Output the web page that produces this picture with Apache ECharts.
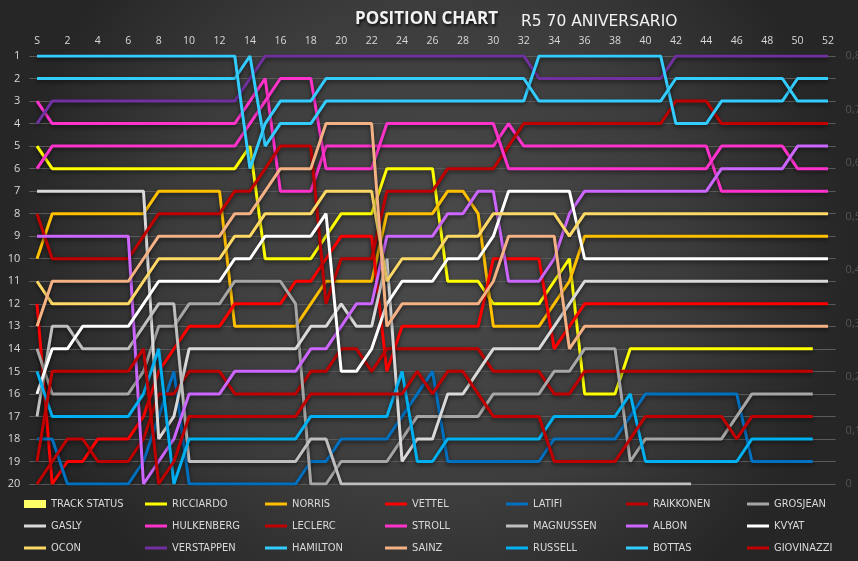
<!DOCTYPE html>
<html><head><meta charset="utf-8">
<script src="https://cdn.jsdelivr.net/npm/echarts@6/dist/echarts.min.js"></script>
<style>html,body{margin:0;padding:0;background:#2a2a2a}#c{width:858px;height:561px}</style>
</head><body><div id="c"></div>
<script>
const lapLabels = ['S','1','2','3','4','5','6','7','8','9','10','11','12','13','14','15','16','17','18','19','20','21','22','23','24','25','26','27','28','29','30','31','32','33','34','35','36','37','38','39','40','41','42','43','44','45','46','47','48','49','50','51','52'];
const trackStatus = [0,0,0,0,0,0,0,0,0,0,0,0,0,0,0,0,0,0,0,0,0,0,0,0,0,0,0,0,0,0,0,0,0,0,0,0,0,0,0,0,0,0,0,0,0,0,0,0,0,0,0,0,0];
const ricciardo = [5,6,6,6,6,6,6,6,6,6,6,6,6,6,5,10,10,10,10,9,8,8,8,6,6,6,6,11,11,11,12,12,12,12,11,10,16,16,16,14,14,14,14,14,14,14,14,14,14,14,14,14,null];
const norris = [10,8,8,8,8,8,8,8,7,7,7,7,7,13,13,13,13,13,12,11,11,11,11,8,8,8,8,7,7,8,13,13,13,13,12,11,9,9,9,9,9,9,9,9,9,9,9,9,9,9,9,9,9];
const vettel = [12,20,19,19,18,18,18,17,15,14,13,13,13,12,12,12,12,11,11,10,9,9,9,15,13,13,13,13,13,13,10,10,10,10,14,13,12,12,12,12,12,12,12,12,12,12,12,12,12,12,12,12,12];
const latifi = [18,18,20,20,20,20,20,19,17,15,20,20,20,20,20,20,20,20,19,19,18,18,18,18,17,16,15,19,19,19,19,19,19,19,18,18,18,18,18,17,16,16,16,16,16,16,16,19,19,19,19,19,null];
const raikkonen = [20,19,18,18,19,19,19,18,16,16,15,15,15,16,16,16,16,16,15,15,14,14,15,14,14,14,14,14,14,14,15,15,15,15,16,16,15,15,15,15,15,15,15,15,15,15,15,15,15,15,15,15,null];
const grosjean = [14,16,16,16,16,16,16,15,13,13,12,12,12,11,11,11,11,12,20,20,19,19,19,19,18,17,17,17,17,17,16,16,16,16,15,15,14,14,14,19,18,18,18,18,18,18,17,16,16,16,16,16,null];
const gasly = [7,7,7,7,7,7,7,7,18,17,14,14,14,14,14,14,14,14,13,13,12,13,13,10,19,18,18,16,16,15,14,14,14,14,13,12,11,11,11,11,11,11,11,11,11,11,11,11,11,11,11,11,11];
const hulkenberg = [3,4,4,4,4,4,4,4,4,4,4,4,4,4,3,2,7,7,7,5,5,5,5,5,5,5,5,5,5,5,5,4,5,5,5,5,5,5,5,5,5,5,5,5,5,7,7,7,7,7,7,7,7];
const leclerc = [8,10,10,10,10,10,10,9,8,8,8,8,8,7,7,6,5,5,5,12,10,10,10,7,7,7,7,6,6,6,6,5,4,4,4,4,4,4,4,4,4,4,3,3,3,4,4,4,4,4,4,4,4];
const stroll = [6,5,5,5,5,5,5,5,5,5,5,5,5,5,4,3,2,2,2,6,6,6,6,4,4,4,4,4,4,4,4,6,6,6,6,6,6,6,6,6,6,6,6,6,6,5,5,5,5,5,6,6,6];
const magnussen = [17,13,13,14,14,14,14,13,12,12,19,19,19,19,19,19,19,19,18,18,20,20,20,20,20,20,20,20,20,20,20,20,20,20,20,20,20,20,20,20,20,20,20,20,null,null,null,null,null,null,null,null,null];
const albon = [9,9,9,9,9,9,9,20,19,18,16,16,16,15,15,15,15,15,14,14,13,12,12,9,9,9,9,8,8,7,7,11,11,11,10,8,7,7,7,7,7,7,7,7,7,6,6,6,6,6,5,5,5];
const kvyat = [16,14,14,13,13,13,13,12,11,11,11,11,11,10,10,9,9,9,9,8,15,15,14,12,11,11,11,10,10,10,9,7,7,7,7,7,10,10,10,10,10,10,10,10,10,10,10,10,10,10,10,10,10];
const ocon = [11,12,12,12,12,12,12,11,10,10,10,10,10,9,9,8,8,8,8,7,7,7,7,11,10,10,10,9,9,9,8,8,8,8,8,9,8,8,8,8,8,8,8,8,8,8,8,8,8,8,8,8,8];
const verstappen = [4,3,3,3,3,3,3,3,3,3,3,3,3,3,2,1,1,1,1,1,1,1,1,1,1,1,1,1,1,1,1,1,1,2,2,2,2,2,2,2,2,2,1,1,1,1,1,1,1,1,1,1,1];
const hamilton = [2,2,2,2,2,2,2,2,2,2,2,2,2,2,1,5,4,4,4,3,3,3,3,3,3,3,3,3,3,3,3,3,3,1,1,1,1,1,1,1,1,1,4,4,4,3,3,3,3,3,2,2,2];
const sainz = [13,11,11,11,11,11,11,10,9,9,9,9,9,8,8,7,6,6,6,4,4,4,4,13,12,12,12,12,12,12,11,9,9,9,9,14,13,13,13,13,13,13,13,13,13,13,13,13,13,13,13,13,13];
const russell = [15,17,17,17,17,17,17,16,14,20,18,18,18,18,18,18,18,18,17,17,17,17,17,17,15,19,19,18,18,18,18,18,18,18,17,17,17,17,17,16,19,19,19,19,19,19,19,18,18,18,18,18,null];
const bottas = [1,1,1,1,1,1,1,1,1,1,1,1,1,1,6,4,3,3,3,2,2,2,2,2,2,2,2,2,2,2,2,2,2,3,3,3,3,3,3,3,3,3,2,2,2,2,2,2,2,2,3,3,3];
const giovinazzi = [19,15,15,15,15,15,15,14,20,19,17,17,17,17,17,17,17,17,16,16,16,16,16,16,16,15,16,15,15,16,17,17,17,17,19,19,19,19,19,18,17,17,17,17,17,17,18,17,17,17,17,17,null];

const driverNames = ['RICCIARDO','NORRIS','VETTEL','LATIFI','RAIKKONEN','GROSJEAN','GASLY','HULKENBERG','LECLERC','STROLL','MAGNUSSEN','ALBON','KVYAT','OCON','VERSTAPPEN','HAMILTON','SAINZ','RUSSELL','BOTTAS','GIOVINAZZI'];
const driverData = [ricciardo,norris,vettel,latifi,raikkonen,grosjean,gasly,hulkenberg,leclerc,stroll,magnussen,albon,kvyat,ocon,verstappen,hamilton,sainz,russell,bottas,giovinazzi];
const colors = {
  'TRACK STATUS':'#FFFF66','RICCIARDO':'#FFFF00','NORRIS':'#FFC000','VETTEL':'#FF0000','LATIFI':'#0070C0',
  'RAIKKONEN':'#C00000','GROSJEAN':'#A6A6A6','GASLY':'#D9D9D9','HULKENBERG':'#FF33CC','LECLERC':'#C00000',
  'STROLL':'#FF33CC','MAGNUSSEN':'#BFBFBF','ALBON':'#CC66FF','KVYAT':'#FFFFFF','OCON':'#FFD966',
  'VERSTAPPEN':'#7030A0','HAMILTON':'#33CCFF','SAINZ':'#F4B183','RUSSELL':'#00B0F0','BOTTAS':'#33CCFF','GIOVINAZZI':'#C00000'
};

const chart = echarts.init(document.getElementById('c'), null, {renderer:'canvas'});

const series = [{
  name:'TRACK STATUS', type:'bar', yAxisIndex:1, data: trackStatus,
  itemStyle:{color:colors['TRACK STATUS']}, barWidth:'100%'
}];
driverNames.forEach((n,i)=>{
  series.push({
    name:n, type:'line', data: driverData[i], yAxisIndex:0,
    symbol:'none', showSymbol:false, connectNulls:false,
    lineStyle:{width:3, color:colors[n], shadowColor:'rgba(0,0,0,0.55)', shadowBlur:4, shadowOffsetY:2},
    itemStyle:{color:colors[n]},
    z: 2
  });
});

const legendFont = {color:'#d9d9d9', fontSize:11, lineHeight:14, fontFamily:'"Liberation Sans Narrow","DejaVu Sans Condensed","Liberation Sans",sans-serif'};
const cols = [
  ['GASLY','OCON'],
  ['RICCIARDO','HULKENBERG','VERSTAPPEN'],
  ['NORRIS','LECLERC','HAMILTON'],
  ['VETTEL','STROLL','SAINZ'],
  ['LATIFI','MAGNUSSEN','RUSSELL'],
  ['RAIKKONEN','ALBON','BOTTAS'],
  ['GROSJEAN','KVYAT','GIOVINAZZI']
];
const colLeft = [24,145,265,385,506,626,747];
const legends = cols.map((c,i)=>({
  orient:'vertical', left: colLeft[i], top: i===0 ? 519 : 497, padding:0,
  itemWidth:22, itemHeight:3, itemGap:8, icon:'rect',
  textStyle: legendFont,
  data: c.map(n=>({name:n, icon:'rect', itemStyle:{color:colors[n]}}))
}));
legends.push({
  orient:'vertical', left: colLeft[0], top:497, padding:0,
  itemWidth:22, itemHeight:8, itemGap:8, icon:'rect',
  textStyle: legendFont,
  data:[{name:'TRACK STATUS', icon:'rect', itemStyle:{color:colors['TRACK STATUS']}}]
});

chart.setOption({
  animation:false,
  backgroundColor: new echarts.graphic.RadialGradient(0.5,0.45,0.75,[
    {offset:0,color:'#4b4b4b'},{offset:0.6,color:'#3c3c3c'},{offset:1,color:'#262626'}
  ]),
  title:[
    {text:'POSITION CHART', left:355, top:11, padding:0,
     textStyle:{color:'#f2f2f2', fontSize:17, fontWeight:'bold', fontFamily:'"Open Sans",sans-serif',
       textShadowColor:'rgba(0,0,0,0.8)', textShadowBlur:3, textShadowOffsetX:1, textShadowOffsetY:2}},
    {text:'R5 70 ANIVERSARIO', left:521, top:14, padding:0,
     textStyle:{color:'#f2f2f2', fontSize:15.5, fontWeight:'normal', fontFamily:'"DejaVu Sans",sans-serif'}}
  ],
  legend: legends,
  grid:{left:29.4, right:22.4, top:56, bottom:77, containLabel:false, outerBoundsMode:'none'},
  xAxis:{
    type:'category', data: lapLabels, position:'top', boundaryGap:true,
    axisLine:{show:false}, axisTick:{show:false}, splitLine:{show:false},
    axisLabel:{interval:1, color:'#d9d9d9', fontSize:10.5, margin:9, fontFamily:'"Open Sans",sans-serif'}
  },
  yAxis:[
    {type:'value', inverse:true, min:1, max:20, interval:1, position:'left',
     axisLine:{show:false}, axisTick:{show:false},
     splitLine:{show:true, lineStyle:{color:'#5c5c5c', width:1}},
     axisLabel:{color:'#d9d9d9', fontSize:11, margin:9, fontFamily:'"Open Sans",sans-serif'}},
    {type:'value', min:0, max:0.8, interval:0.1, position:'right',
     axisLine:{show:false}, axisTick:{show:false}, splitLine:{show:false},
     axisLabel:{color:'#555555', fontSize:11, margin:10, fontFamily:'"Open Sans",sans-serif',
       formatter:v=> v===0 ? '0' : v.toFixed(1).replace('.',',')}}
  ],
  series: series
});
</script></body></html>
